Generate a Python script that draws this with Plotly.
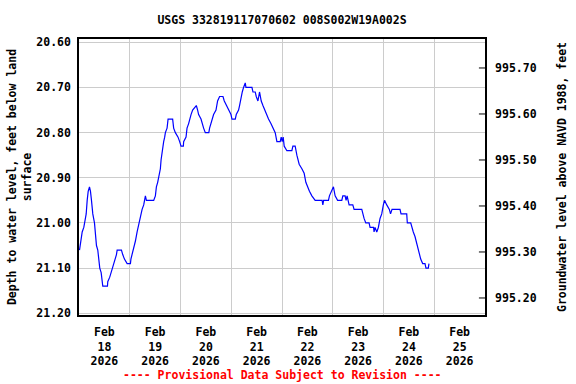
import pandas as pd
import plotly.graph_objects as go

# Hours since 2026-02-18 00:00 and depth to water (ft below land surface)
hours = [0.24, 0.71, 1.51, 2.27, 2.74, 3.40, 3.87, 4.34, 4.96, 5.43, 5.90, 6.52, 7.32, 7.79, 8.26, 8.88,
         9.35, 9.82, 10.48, 10.96, 11.24, 13.46, 13.60, 14.54, 15.20, 15.96, 16.76, 17.24, 17.71, 18.04,
         20.07, 20.68, 21.49, 22.76, 24.32, 24.55, 25.12, 26.21, 26.68, 27.48, 27.95, 28.57, 29.04, 29.84,
         30.60, 30.93, 31.40, 31.87, 35.32, 36.12, 36.60, 37.21, 37.68, 38.15, 38.48, 38.82, 39.29, 40.04,
         40.52, 40.85, 41.65, 42.12, 44.29, 44.76, 45.57, 46.84, 47.60, 48.26, 49.34, 49.49, 50.62, 51.09,
         51.85, 52.32, 52.98, 53.74, 55.48, 56.10, 56.57, 57.70, 58.18, 58.93, 59.73, 61.39, 61.76, 62.90,
         63.65, 64.79, 65.54, 66.49, 68.09, 68.71, 69.65, 70.74, 71.87, 72.34, 73.90, 74.37, 75.46, 75.93,
         76.59, 77.21, 77.82, 78.62, 78.95, 81.79, 82.26, 83.34, 83.82, 84.62, 85.37, 86.18, 86.98, 87.74,
         88.87, 89.62, 90.76, 91.70, 92.79, 93.59, 95.15, 95.62, 96.09, 96.56, 97.04, 98.31, 100.67, 101.15,
         102.23, 103.03, 104.12, 105.40, 106.48, 107.28, 108.04, 108.98, 110.12, 111.68, 114.98, 115.31,
         115.69, 117.96, 118.43, 119.56, 120.32, 121.12, 122.30, 124.28, 124.76, 125.84, 126.31, 126.79,
         127.40, 127.73, 129.48, 130.09, 133.73, 134.20, 134.81, 135.62, 137.17, 137.65, 139.30, 139.54,
         140.01, 140.81, 141.57, 142.37, 143.17, 143.93, 144.49, 145.53, 146.76, 147.33, 148.03, 151.81,
         152.29, 154.98, 155.26, 156.87, 157.34, 158.09, 158.89, 159.37, 159.98, 160.45, 160.93, 161.59,
         162.53, 163.62, 164.09, 165.18, 165.51]
depth = [21.06, 21.04, 21.02, 21.01, 21.00, 20.98, 20.95, 20.93, 20.92, 20.93, 20.95, 20.98, 21.00, 21.02, 21.05, 21.06,
         21.08, 21.10, 21.11, 21.13, 21.14, 21.14, 21.13, 21.12, 21.11, 21.10, 21.09, 21.08, 21.07, 21.06,
         21.06, 21.07, 21.08, 21.09, 21.09, 21.08, 21.07, 21.05, 21.04, 21.02, 21.01, 20.99, 20.98, 20.97,
         20.96, 20.95, 20.94, 20.95, 20.95, 20.94, 20.92, 20.91, 20.90, 20.89, 20.88, 20.86, 20.84, 20.82,
         20.81, 20.80, 20.79, 20.77, 20.77, 20.79, 20.80, 20.81, 20.82, 20.83, 20.83, 20.82, 20.81, 20.79,
         20.78, 20.77, 20.76, 20.75, 20.74, 20.75, 20.76, 20.77, 20.78, 20.79, 20.80, 20.80, 20.79, 20.77,
         20.76, 20.75, 20.73, 20.72, 20.72, 20.73, 20.74, 20.75, 20.76, 20.77, 20.77, 20.76, 20.75, 20.74,
         20.72, 20.71, 20.70, 20.69, 20.70, 20.70, 20.71, 20.71, 20.72, 20.73, 20.71, 20.73, 20.74, 20.75,
         20.76, 20.77, 20.78, 20.79, 20.80, 20.82, 20.82, 20.81, 20.82, 20.81, 20.83, 20.84, 20.84, 20.83,
         20.83, 20.85, 20.87, 20.88, 20.89, 20.91, 20.92, 20.93, 20.94, 20.95, 20.95, 20.96,
         20.95, 20.95, 20.94, 20.93, 20.92, 20.94, 20.95, 20.95, 20.94, 20.94, 20.95, 20.94,
         20.95, 20.96, 20.96, 20.97, 20.97, 20.98, 20.99, 21.00, 21.00, 21.01, 21.01, 21.02,
         21.01, 21.02, 21.01, 20.99, 20.98, 20.96, 20.95, 20.96, 20.97, 20.98, 20.97, 20.97,
         20.98, 20.98, 21.00, 21.00, 21.01, 21.02, 21.03, 21.04, 21.05, 21.06, 21.07, 21.08,
         21.09, 21.09, 21.10, 21.10, 21.09]

land_surface_ft = 1016.36  # elevation of land surface, NAVD 1988 (approx.)

day_tick_vals = ["2026-02-18 12:00", "2026-02-19 12:00", "2026-02-20 12:00", "2026-02-21 12:00",
                 "2026-02-22 12:00", "2026-02-23 12:00", "2026-02-24 12:00", "2026-02-25 12:00"]
day_tick_text = ["Feb<br>18<br>2026", "Feb<br>19<br>2026", "Feb<br>20<br>2026", "Feb<br>21<br>2026",
                 "Feb<br>22<br>2026", "Feb<br>23<br>2026", "Feb<br>24<br>2026", "Feb<br>25<br>2026"]
midnight_vals = ["2026-02-19", "2026-02-20", "2026-02-21", "2026-02-22",
                 "2026-02-23", "2026-02-24", "2026-02-25"]
depth_ticks = [20.60, 20.70, 20.80, 20.90, 21.00, 21.10, 21.20]
elev_ticks = [995.20, 995.30, 995.40, 995.50, 995.60, 995.70]

t0 = pd.Timestamp("2026-02-18 00:00")
times = [t0 + pd.to_timedelta(h, unit="h") for h in hours]
elev = [land_surface_ft - d for d in depth]

FONT = "DejaVu Sans Mono"
F = dict(family=FONT, size=11.5, color="black", weight="bold")
fig = go.Figure()
fig.add_trace(go.Scatter(x=times, y=depth, mode="lines",
                         line=dict(color="#0000ff", width=1.2), hoverinfo="skip", showlegend=False))
fig.add_trace(go.Scatter(x=times, y=elev, mode="lines", yaxis="y2",
                         line=dict(color="rgba(0,0,0,0)", width=0), hoverinfo="skip", showlegend=False))

# small inward tick marks on the right-hand (elevation) axis
tick_shapes = [dict(type="line", xref="x domain", yref="y2", x0=0.985, x1=1.0, y0=v, y1=v,
                    line=dict(color="black", width=1), layer="above") for v in elev_ticks]

fig.update_layout(
    width=576, height=384,
    margin=dict(l=79, r=91, t=39, b=69, autoexpand=False),
    paper_bgcolor="white", plot_bgcolor="white",
    font=F, hovermode=False,
    shapes=tick_shapes,
    title=dict(text="USGS 332819117070602 008S002W19A002S", x=0.5, xref="paper", xanchor="center",
               y=1 - 20 / 384, yref="container", yanchor="middle", automargin=False, font=F),
    xaxis=dict(range=["2026-02-18 00:00", "2026-02-26 00:00"], type="date", automargin=False,
               tickmode="array", tickvals=day_tick_vals, ticktext=day_tick_text,
               ticks="", showgrid=False, zeroline=False, ticklabelstandoff=5,
               showline=True, linecolor="black", linewidth=1.5, mirror=True,
               minor=dict(tickmode="array", tickvals=midnight_vals, showgrid=True,
                          gridcolor="#cccccc", gridwidth=1, ticks=""),
               tickfont=F),
    yaxis=dict(range=[21.2038, 20.5927], tickmode="array", tickvals=depth_ticks, automargin=False,
               ticktext=[f"{v:.2f}" for v in depth_ticks], ticks="", ticklabelstandoff=4,
               showgrid=True, gridcolor="#cccccc", gridwidth=1, zeroline=False,
               showline=True, linecolor="black", linewidth=1.5, mirror=True,
               title=dict(text="Depth to water level, feet below land<br>surface", standoff=2, font=F),
               tickfont=F),
    yaxis2=dict(range=[995.163, 995.763], overlaying="y", side="right", anchor="x", automargin=False,
                tickmode="array", tickvals=elev_ticks, ticktext=[f"{v:.2f}" for v in elev_ticks],
                ticks="", showgrid=False, zeroline=False,
                showline=True, linecolor="black", linewidth=1.5, ticklabelstandoff=6,
                title=dict(text="Groundwater level above NAVD 1988, feet", standoff=22, font=F),
                tickfont=F),
    annotations=[dict(text="---- Provisional Data Subject to Revision ----", x=0.5, xref="paper",
                      y=-60 / 276, yref="paper", xanchor="center", yanchor="middle", showarrow=False,
                      font=dict(family=FONT, size=11.5, color="red", weight="bold"))],
)

fig.write_html("out.html", config={"displayModeBar": False},
               post_script="document.body.style.margin='0';")
